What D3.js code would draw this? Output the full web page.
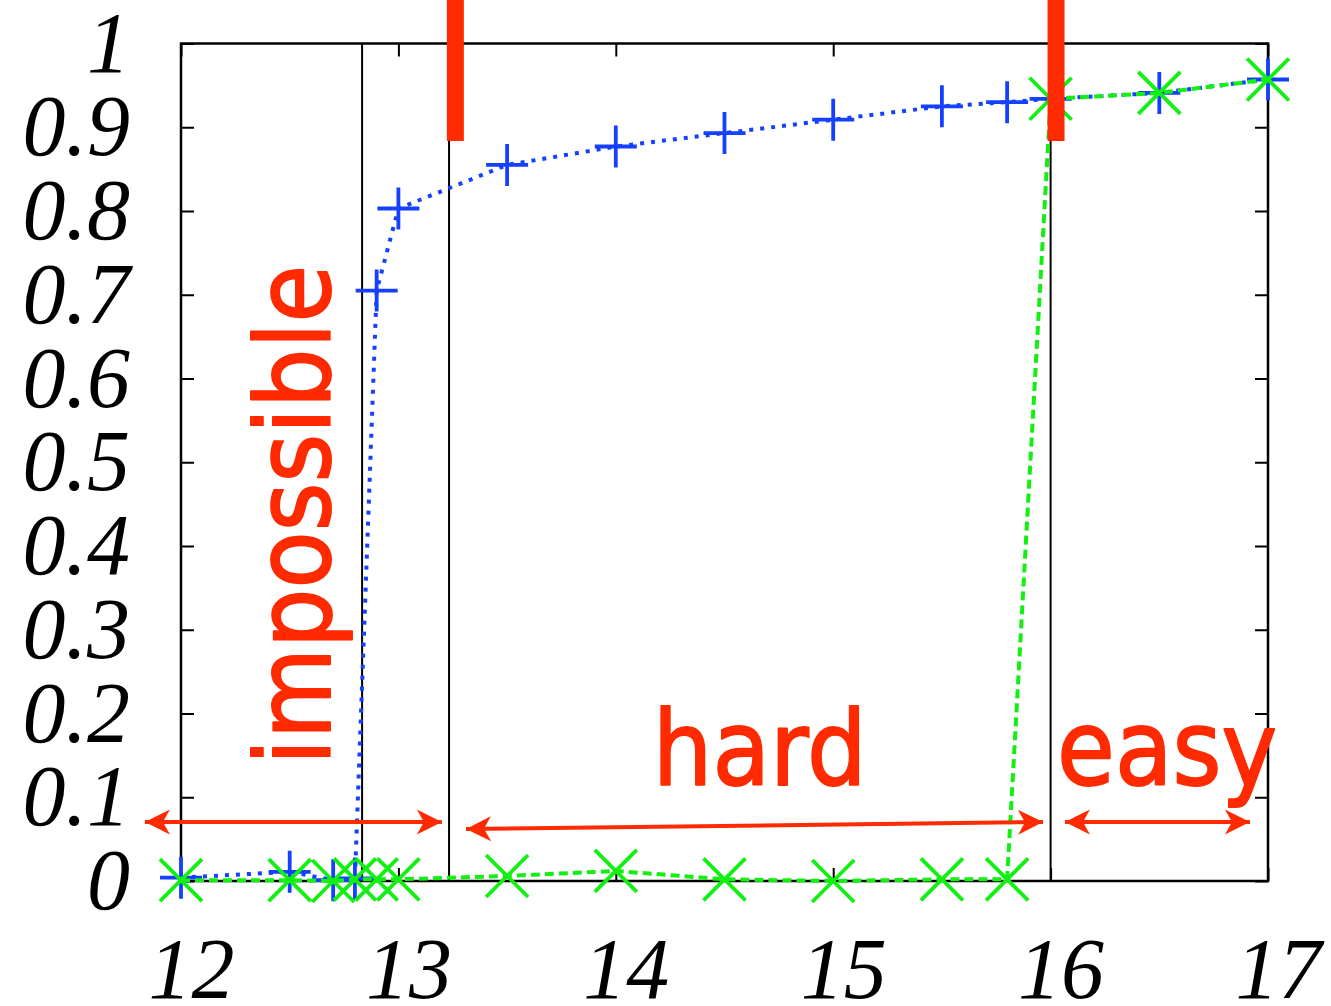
<!DOCTYPE html>
<html>
<head>
<meta charset="utf-8">
<script src="https://cdn.jsdelivr.net/npm/d3@7"></script>
<style>
  body { margin: 0; background: #fff; }
  svg { display: block; }
</style>
</head>
<body>
<svg id="chart" width="1331" height="1006"></svg>
<script>
//// data
var xVals = [12, 12.5, 12.7, 12.8, 12.9, 13, 13.5, 14, 14.5, 15, 15.5, 15.8, 16, 16.5, 17];
var blueVals = [0.004, 0.011, 0.001, 0.003, 0.705, 0.803, 0.855, 0.877, 0.893, 0.909, 0.925, 0.930, 0.934, 0.941, 0.957];
var greenVals = [0.001, 0.001, 0.000, 0.002, 0.002, 0.002, 0.006, 0.012, 0.002, 0.000, 0.002, 0.002, 0.934, 0.941, 0.957];
var xTicks = [12, 13, 14, 15, 16, 17];
var yTicks = [0, 0.1, 0.2, 0.3, 0.4, 0.5, 0.6, 0.7, 0.8, 0.9, 1];

// annotations (in data units)
var splitLines = [12.833, 13.233, 16];
var redBars = [13.262, 16.025];
var regionArrows = [
  {x1: 11.834, y1: 0.0704, x2: 13.2, y2: 0.0704},
  {x1: 13.311, y1: 0.062, x2: 15.965, y2: 0.0704},
  {x1: 16.066, y1: 0.0704, x2: 16.917, y2: 0.0704}
];
var regionLabels = [
  {text: "impossible", x: 12.685, y: 0.437, len: 500, rotate: true},
  {text: "hard", x: 14.17, y: 0.1146, len: 214, rotate: false},
  {text: "easy", x: 16.03, y: 0.1146, len: 220, rotate: false}
];

//// define parameters
var svg = d3.select("svg#chart");
var margin = {top: 43.5, right: 63, bottom: 125, left: 181};
var width = +svg.attr("width") - margin.left - margin.right,
    height = +svg.attr("height") - margin.top - margin.bottom;

var red = "#ff2a00", blue = "#1540ff", green = "#12f012";

var x = d3.scaleLinear().domain([12, 17]).range([0, width]);
var y = d3.scaleLinear().domain([0, 1]).range([height, 0]);

var g = svg.append("g").attr("transform", "translate(" + margin.left + "," + margin.top + ")");

// axes with inward ticks
var tickFont = "'Liberation Serif', 'Times New Roman', serif";

var axisL = g.append("g")
  .call(d3.axisLeft(y).tickValues(yTicks).tickSize(-13).tickPadding(51).tickFormat(d3.format("")));
var axisR = g.append("g").attr("transform", "translate(" + width + ",0)")
  .call(d3.axisRight(y).tickValues(yTicks).tickSize(-13).tickFormat(""));
var axisB = g.append("g").attr("transform", "translate(0," + height + ")")
  .call(d3.axisBottom(x).tickValues(xTicks).tickSize(-13).tickPadding(56).tickFormat(d3.format("d")));
var axisT = g.append("g")
  .call(d3.axisTop(x).tickValues(xTicks).tickSize(-13).tickFormat(""));

[axisL, axisR, axisB, axisT].forEach(function(a) {
  a.select(".domain").remove();
  a.selectAll("line").attr("stroke", "#000").attr("stroke-width", 2);
  a.selectAll("text")
    .attr("fill", "#000")
    .style("font-family", tickFont)
    .style("font-style", "italic")
    .style("font-size", "86px");
});
axisB.selectAll("text").attr("dx", 10);

// frame
g.append("rect")
  .attr("x", 0).attr("y", 0)
  .attr("width", width).attr("height", height)
  .attr("fill", "none")
  .attr("stroke", "#000")
  .attr("stroke-width", 2.5);

// region split lines
g.selectAll(".split")
  .data(splitLines)
  .enter().append("line")
  .attr("x1", function(d) { return x(d); })
  .attr("x2", function(d) { return x(d); })
  .attr("y1", 0)
  .attr("y2", height)
  .attr("stroke", "#000")
  .attr("stroke-width", 2);

// series
var blueData = xVals.map(function(d, i) { return {x: d, y: blueVals[i]}; });
var greenData = xVals.map(function(d, i) { return {x: d, y: greenVals[i]}; });

var line = d3.line()
  .x(function(d) { return x(d.x); })
  .y(function(d) { return y(d.y); });

g.append("path")
  .datum(blueData)
  .attr("d", line)
  .attr("fill", "none")
  .attr("stroke", blue)
  .attr("stroke-width", 4)
  .attr("stroke-dasharray", "4,7");

g.selectAll(".plus")
  .data(blueData)
  .enter().append("path")
  .attr("transform", function(d) { return "translate(" + x(d.x) + "," + y(d.y) + ")"; })
  .attr("d", "M-21,0H21M0,-21V21")
  .attr("stroke", blue)
  .attr("stroke-width", 3.8);

g.append("path")
  .datum(greenData)
  .attr("d", line)
  .attr("fill", "none")
  .attr("stroke", green)
  .attr("stroke-width", 4)
  .attr("stroke-dasharray", "9,5");

g.selectAll(".cross")
  .data(greenData)
  .enter().append("path")
  .attr("transform", function(d) { return "translate(" + x(d.x) + "," + y(d.y) + ")"; })
  .attr("d", "M-21,-21L21,21M-21,21L21,-21")
  .attr("stroke", green)
  .attr("stroke-width", 3.8);

// red bars at the top
g.selectAll(".bar")
  .data(redBars)
  .enter().append("rect")
  .attr("x", function(d) { return x(d) - 8.5; })
  .attr("y", y(1.06))
  .attr("width", 17)
  .attr("height", function() { return y(0.8836) - y(1.06); })
  .attr("fill", red);

// arrows
svg.append("defs").append("marker")
  .attr("id", "head")
  .attr("markerUnits", "userSpaceOnUse")
  .attr("viewBox", "-26 -13 28 26")
  .attr("refX", 0).attr("refY", 0)
  .attr("markerWidth", 28).attr("markerHeight", 26)
  .attr("orient", "auto-start-reverse")
  .append("path")
  .attr("d", "M0,0L-25,-12.5L-18,0L-25,12.5Z")
  .attr("fill", red);

g.selectAll(".arrow")
  .data(regionArrows)
  .enter().append("line")
  .attr("x1", function(d) { return x(d.x1); })
  .attr("y1", function(d) { return y(d.y1); })
  .attr("x2", function(d) { return x(d.x2); })
  .attr("y2", function(d) { return y(d.y2); })
  .attr("stroke", red)
  .attr("stroke-width", 4)
  .attr("marker-start", "url(#head)")
  .attr("marker-end", "url(#head)");

// region labels
g.selectAll(".label")
  .data(regionLabels)
  .enter().append("text")
  .attr("transform", function(d) {
    return "translate(" + x(d.x) + "," + y(d.y) + ")" + (d.rotate ? " rotate(-90)" : "");
  })
  .attr("text-anchor", function(d) { return d.rotate ? "middle" : "start"; })
  .attr("textLength", function(d) { return d.len; })
  .attr("lengthAdjust", "spacingAndGlyphs")
  .attr("fill", red)
  .attr("stroke", red)
  .attr("stroke-width", 2)
  .attr("stroke-linejoin", "round")
  .style("font-family", "'DejaVu Sans', sans-serif")
  .style("font-size", "104px")
  .text(function(d) { return d.text; });
</script>
</body>
</html>
